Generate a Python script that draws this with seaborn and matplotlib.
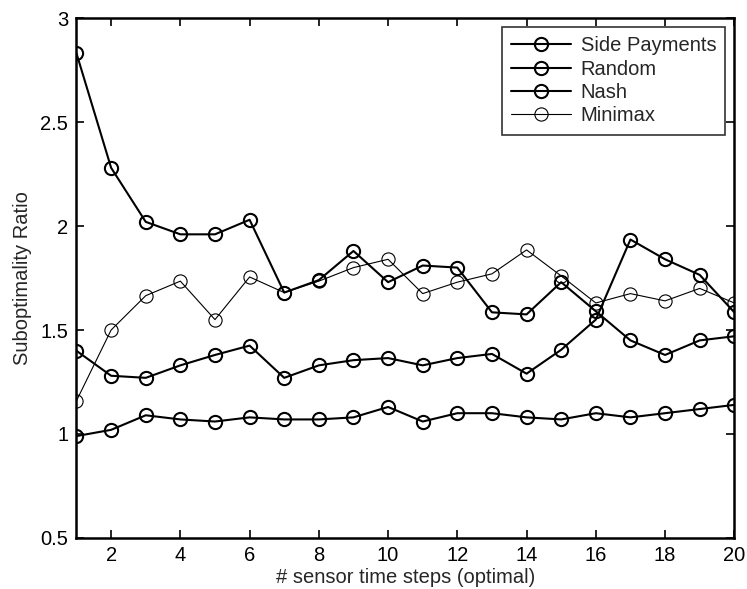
import matplotlib
matplotlib.use("Agg")
import matplotlib.pyplot as plt
import seaborn as sns
import pandas as pd
import numpy as np

steps = list(range(1, 21))

side_payments = [0.99, 1.02, 1.09, 1.07, 1.06, 1.08, 1.07, 1.07, 1.08, 1.13,
                 1.06, 1.10, 1.10, 1.08, 1.07, 1.10, 1.08, 1.10, 1.12, 1.14]
random_ = [2.83, 2.28, 2.02, 1.96, 1.96, 2.03, 1.68, 1.74, 1.88, 1.73,
           1.81, 1.80, 1.585, 1.575, 1.73, 1.59, 1.45, 1.38, 1.45, 1.47]
nash = [1.40, 1.28, 1.27, 1.33, 1.38, 1.425, 1.27, 1.33, 1.355, 1.365,
        1.33, 1.365, 1.385, 1.29, 1.405, 1.55, 1.935, 1.84, 1.765, 1.585]
minimax = [1.16, 1.50, 1.665, 1.735, 1.55, 1.755, 1.68, 1.735, 1.80, 1.84,
           1.675, 1.73, 1.77, 1.885, 1.76, 1.63, 1.675, 1.64, 1.70, 1.63]

series_names = ["Side Payments", "Random", "Nash", "Minimax"]
series_values = [side_payments, random_, nash, minimax]
line_widths = [1.5, 1.5, 1.5, 0.8]

xticks = list(range(2, 21, 2))
yticks = [0.5, 1, 1.5, 2, 2.5, 3]
ytick_labels = ["0.5", "1", "1.5", "2", "2.5", "3"]

sns.set_style("white")
plt.rcParams["font.family"] = ["Liberation Sans", "DejaVu Sans"]
FS = 14.5

fig = plt.figure(figsize=(7.47, 5.89), dpi=100)
ax = fig.add_axes([0.1024, 0.0866, 0.983 - 0.1024, 0.9694 - 0.0866])

for name, vals, lw in zip(series_names, series_values, line_widths):
    df = pd.DataFrame({"step": steps, "ratio": vals})
    sns.lineplot(data=df, x="step", y="ratio", ax=ax, color="black",
                 marker="o", markersize=9.5, markerfacecolor="none",
                 markeredgecolor="black", markeredgewidth=lw,
                 linewidth=lw, label=name, legend=False)

ax.set_xlim(1, 20)
ax.set_ylim(0.5, 3)
ax.set_xticks(xticks)
ax.set_xticklabels([str(t) for t in xticks], fontsize=FS)
ax.set_yticks(yticks)
ax.set_yticklabels(ytick_labels, fontsize=FS)
ax.set_xlabel("# sensor time steps (optimal)", fontsize=FS, labelpad=2)
ax.set_ylabel("Suboptimality Ratio", fontsize=FS, labelpad=6)

ax.tick_params(direction="in", length=6, width=1.2, top=True, right=True,
               bottom=True, left=True, pad=6, colors="black")
for sp in ax.spines.values():
    sp.set_visible(True)
    sp.set_color("black")
    sp.set_linewidth(1.8)

handles = ax.get_lines()
leg = ax.legend(handles=handles, labels=series_names, loc="upper right",
                fontsize=FS, frameon=True, fancybox=False, handlelength=3.0,
                handletextpad=0.45, labelspacing=0.22, borderaxespad=0.45,
                borderpad=0.45)
leg.get_frame().set_edgecolor("black")
leg.get_frame().set_linewidth(1.2)

fig.savefig("out.png", dpi=100)
